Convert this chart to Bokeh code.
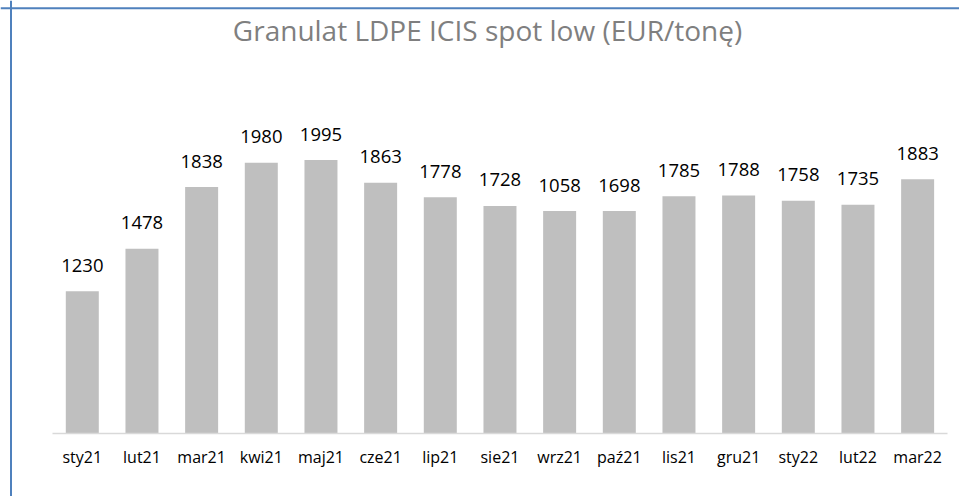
from bokeh.plotting import figure
from bokeh.models import Range1d, LinearAxis, FixedTicker, Span, Label
from bokeh.embed import file_html
from bokeh.resources import INLINE
from bokeh.core.properties import value

# ---- data ----
categories = ["sty21", "lut21", "mar21", "kwi21", "maj21", "cze21", "lip21", "sie21",
              "wrz21", "paź21", "lis21", "gru21", "sty22", "lut22", "mar22"]
prices = [1230, 1478, 1838, 1980, 1995, 1863, 1778, 1728,
          1698, 1698, 1785, 1788, 1758, 1735, 1883]
price_labels = ["1230", "1478", "1838", "1980", "1995", "1863", "1778", "1728",
                "1058", "1698", "1785", "1788", "1758", "1735", "1883"]
title_text = "Granulat LDPE ICIS spot low (EUR/tonę)"
axis_min = 400

# ---- layout constants ----
W, H = 959, 496
px_per_cat = 59.667
first_center_px = 81.8
baseline_px = 433.3
px_per_unit = 0.1716

n = len(categories)
idx = list(range(n))
x0 = -first_center_px / px_per_cat
x_range = Range1d(x0, x0 + W / px_per_cat)
y_start = axis_min - (H - baseline_px) / px_per_unit
y_end = axis_min + baseline_px / px_per_unit
y_range = Range1d(y_start, y_end)

p = figure(width=W, height=H, x_range=x_range, y_range=y_range,
           x_axis_type=None, y_axis_type=None,
           toolbar_location=None, output_backend="svg", min_border=0)
p.outline_line_color = None
p.background_fill_color = "white"
p.border_fill_color = "white"

p.vbar(x=idx, top=prices, bottom=axis_min, width=0.553,
       fill_color="#BFBFBF", line_color=None)

p.text(x=idx, y=prices, text=price_labels, text_align="center",
       text_baseline="alphabetic", y_offset=-26,
       text_font=value("Open Sans"), text_font_size="18.5px", text_color="#000000")

ax = LinearAxis(fixed_location=axis_min,
                ticker=FixedTicker(ticks=idx),
                major_label_overrides={i: c for i, c in enumerate(categories)},
                bounds=(-0.5, n - 0.5))
ax.axis_line_color = "#D9D9D9"
ax.axis_line_width = 1.5
ax.major_tick_line_color = None
ax.minor_tick_line_color = None
ax.major_tick_out = 0
ax.major_tick_in = 0
ax.major_label_standoff = 12
ax.major_label_text_font = "Open Sans"
ax.major_label_text_font_size = "16px"
ax.major_label_text_color = "#000000"
p.add_layout(ax, "below")

title = Label(x=487, y=H - 29.7, x_units="screen", y_units="screen",
              text=title_text, text_align="center", text_baseline="alphabetic",
              text_font="Open Sans", text_font_size="28px", text_color="#7F7F7F")
p.add_layout(title)

left_border = Span(location=x0 + 10.5 / px_per_cat, dimension="height",
                   line_color="#4F81BD", line_width=2)
top_border = Span(location=y_end - 7.7 / px_per_unit, dimension="width",
                  line_color="#4F81BD", line_width=2)
p.add_layout(left_border)
p.add_layout(top_border)

open("out.html", "w").write(file_html(p, INLINE))
